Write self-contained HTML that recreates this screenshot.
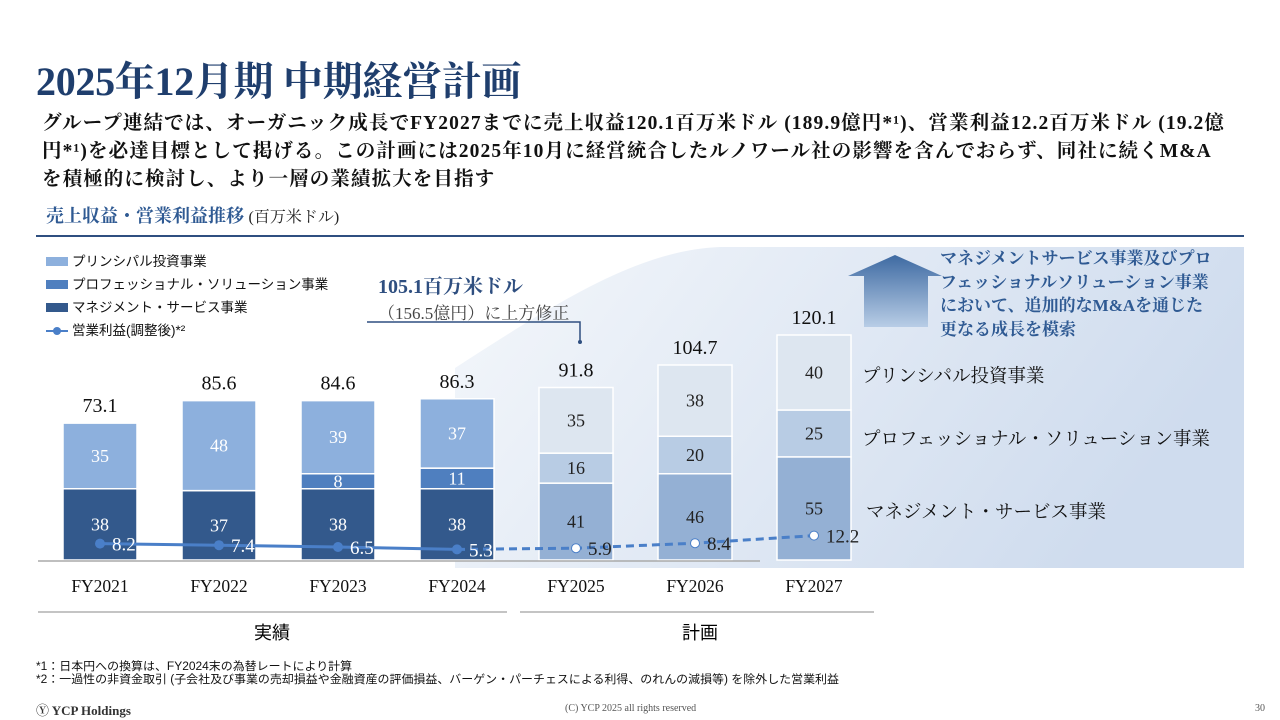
<!DOCTYPE html>
<html><head><meta charset="utf-8">
<style>
body{margin:0;width:1280px;height:720px;background:#fff;position:relative;overflow:hidden;font-family:"Liberation Serif","Noto Serif CJK SC",serif;color:#111}
.abs{position:absolute}
</style></head><body>
<div class="abs" style="left:36px;top:50px;font-size:40px;font-weight:bold;color:#1f3e6d;letter-spacing:-0.3px">2025年12月期 中期経営計画</div>
<div class="abs" style="left:42px;top:110px;width:1230px;font-size:19.5px;font-weight:bold;line-height:28px;white-space:nowrap;letter-spacing:1.1px">グループ連結では、オーガニック成長でFY2027までに売上収益120.1百万米ドル (189.9億円*¹)、営業利益12.2百万米ドル (19.2億<br>円*¹)を必達目標として掲げる。この計画には2025年10月に経営統合したルノワール社の影響を含んでおらず、同社に続くM&amp;A<br>を積極的に検討し、より一層の業績拡大を目指す</div>
<div class="abs" style="left:46px;top:202px;font-size:18px;color:#2f5a93;font-weight:bold">売上収益・営業利益推移 <span style="color:#222;font-weight:normal;font-size:16px">(百万米ドル)</span></div>
<div class="abs" style="left:36px;top:235px;width:1208px;height:2px;background:#2f4f80"></div>

<svg class="abs" style="left:0;top:0" width="1280" height="720" id="chart">
<defs>
<linearGradient id="bg" x1="0" y1="0" x2="1" y2="0.3">
<stop offset="0" stop-color="#f4f7fb"/><stop offset="1" stop-color="#cfdcee"/></linearGradient>
<linearGradient id="arr" x1="0" y1="0" x2="0" y2="1">
<stop offset="0" stop-color="#3e6aa2"/><stop offset="1" stop-color="#b8cde6"/></linearGradient>
</defs>
<path d="M455,568 L455,368 C560,300 640,250 720,247 L1244,247 L1244,568 Z" fill="url(#bg)"/>
<polygon points="848,276 895,255 942,276 928,276 928,327 864,327 864,276" fill="url(#arr)"/>
<g id="bars"></g>
<line x1="38" y1="561" x2="760" y2="561" stroke="#aaa" stroke-width="1.5"/>
<polyline points="367,322 580,322 580,341" fill="none" stroke="#2f4f80" stroke-width="1.5"/>
<circle cx="580" cy="342" r="2" fill="#2f4f80"/>
<g id="line"></g>
<line x1="38" y1="612" x2="507" y2="612" stroke="#888"/>
<line x1="520" y1="612" x2="874" y2="612" stroke="#888"/>
<text x="272" y="639" font-size="18" text-anchor="middle" font-family="Liberation Sans,Noto Sans CJK JP,sans-serif">実績</text>
<text x="700" y="639" font-size="18" text-anchor="middle" font-family="Liberation Sans,Noto Sans CJK JP,sans-serif">計画</text>
</svg>

<div class="abs" style="left:46px;top:250px;font-size:13.5px;font-family:'Liberation Sans','Noto Sans CJK JP',sans-serif;line-height:23px">
<div><span style="display:inline-block;width:22px;height:9px;background:#8db0dd;margin-right:4px"></span>プリンシパル投資事業</div>
<div><span style="display:inline-block;width:22px;height:9px;background:#4f7fbf;margin-right:4px"></span>プロフェッショナル・ソリューション事業</div>
<div><span style="display:inline-block;width:22px;height:9px;background:#33598c;margin-right:4px"></span>マネジメント・サービス事業</div>
<div><span style="display:inline-block;width:22px;height:2px;background:#4a7fc8;margin-right:4px;vertical-align:middle;position:relative"><span style="position:absolute;left:7px;top:-3px;width:8px;height:8px;border-radius:50%;background:#4a7fc8"></span></span>営業利益(調整後)*²</div>
</div>
<div class="abs" style="left:378px;top:270px;color:#2f4f80">
<div style="font-size:20px;font-weight:bold">105.1百万米ドル</div>
<div style="font-size:17px;color:#444">（156.5億円）に上方修正</div></div>
<div class="abs" style="left:940px;top:247px;width:300px;font-size:17px;font-weight:bold;color:#2f5a93;line-height:23.5px">マネジメントサービス事業及びプロ<br>フェッショナルソリューション事業<br>において、追加的なM&amp;Aを通じた<br>更なる成長を模索</div>
<div class="abs" style="left:862px;top:362px;font-size:18.5px">プリンシパル投資事業</div>
<div class="abs" style="left:862px;top:425px;font-size:18.5px">プロフェッショナル・ソリューション事業</div>
<div class="abs" style="left:866px;top:498px;font-size:18.5px">マネジメント・サービス事業</div>

<div class="abs" style="left:36px;top:661px;font-size:11.5px;line-height:13px;font-family:'Liberation Sans','Noto Sans CJK JP',sans-serif;white-space:nowrap;transform:scaleX(1.04);transform-origin:left">*1：日本円への換算は、FY2024末の為替レートにより計算<br>*2：一過性の非資金取引 (子会社及び事業の売却損益や金融資産の評価損益、バーゲン・パーチェスによる利得、のれんの減損等) を除外した営業利益</div>
<div class="abs" style="left:36px;top:700px;font-size:13px;font-weight:bold;color:#333">Ⓨ YCP Holdings</div>
<div class="abs" style="left:565px;top:703px;font-size:10px;color:#555">(C) YCP 2025 all rights reserved</div>
<div class="abs" style="left:1255px;top:703px;font-size:10px;color:#555">30</div>

<script>
const years=["FY2021","FY2022","FY2023","FY2024","FY2025","FY2026","FY2027"];
const management=[38,37,38,38,41,46,55];
const professional=[0,0,8,11,16,20,25];
const principal=[35,48,39,37,35,38,40];
const totals=["73.1","85.6","84.6","86.3","91.8","104.7","120.1"];
const opProfit=[8.2,7.4,6.5,5.3,5.9,8.4,12.2];
const planStart=4;
const NS="http://www.w3.org/2000/svg";
const base=560, unit=1.875, opUnit=2.0;
const xC=i=>100+i*119, yV=v=>base-v*unit, yOp=v=>base-v*opUnit;
function mk(tag,attrs,parent){const e=document.createElementNS(NS,tag);for(const k in attrs)e.setAttribute(k,attrs[k]);parent.appendChild(e);return e;}
const bars=document.getElementById('bars'),line=document.getElementById('line');
const cols=[["#33598c","#4f7fbf","#8db0dd"],["#94b0d4","#b8cce4","#dde6f0"]];
const segNames=['management','professional','principal'];
years.forEach((y,i)=>{
 const plan=i>=planStart?1:0;
 const vals=[management[i],professional[i],principal[i]];
 let acc=0;
 vals.forEach((v,s)=>{
  if(!v)return;
  const r=mk('rect',{x:xC(i)-37,y:yV(acc+v),width:74,height:v*unit,fill:cols[plan][s],stroke:'#fff','stroke-width':1.5},bars);
  
  
  const t=mk('text',{x:xC(i),y:yV(acc+v/2)+6,'font-size':18,'text-anchor':'middle',fill:plan?'#222':'#fff'},bars);
  t.textContent=v;
  acc+=v;
 });
 const tt=mk('text',{x:xC(i),y:yV(acc)-11,'font-size':20,'text-anchor':'middle',fill:'#111'},bars);
 
 
 tt.textContent=totals[i];
 const xl=mk('text',{x:xC(i),y:592,'font-size':17.5,'text-anchor':'middle',fill:'#111'},bars);
 
 
 xl.textContent=y;
});
const pts=opProfit.map((v,i)=>[xC(i),yOp(v)]);
mk('polyline',{points:pts.slice(0,planStart).map(p=>p.join(',')).join(' '),fill:'none',stroke:'#4a7fc8','stroke-width':3},line);
mk('polyline',{points:pts.slice(planStart-1).map(p=>p.join(',')).join(' '),fill:'none',stroke:'#4a7fc8','stroke-width':3,'stroke-dasharray':'8,5'},line);
pts.forEach((p,i)=>{
 const c=mk('circle',{cx:p[0],cy:p[1],r:i>=planStart?4.5:5,fill:i>=planStart?'#fff':'#4a7fc8',stroke:'#4a7fc8','stroke-width':i>=planStart?1:0},line);
 
 
 const t=mk('text',{x:p[0]+12,y:p[1]+7,'font-size':19,fill:i>=planStart?'#222':'#fff'},line);
 t.textContent=opProfit[i];
});
</script>
</body></html>
